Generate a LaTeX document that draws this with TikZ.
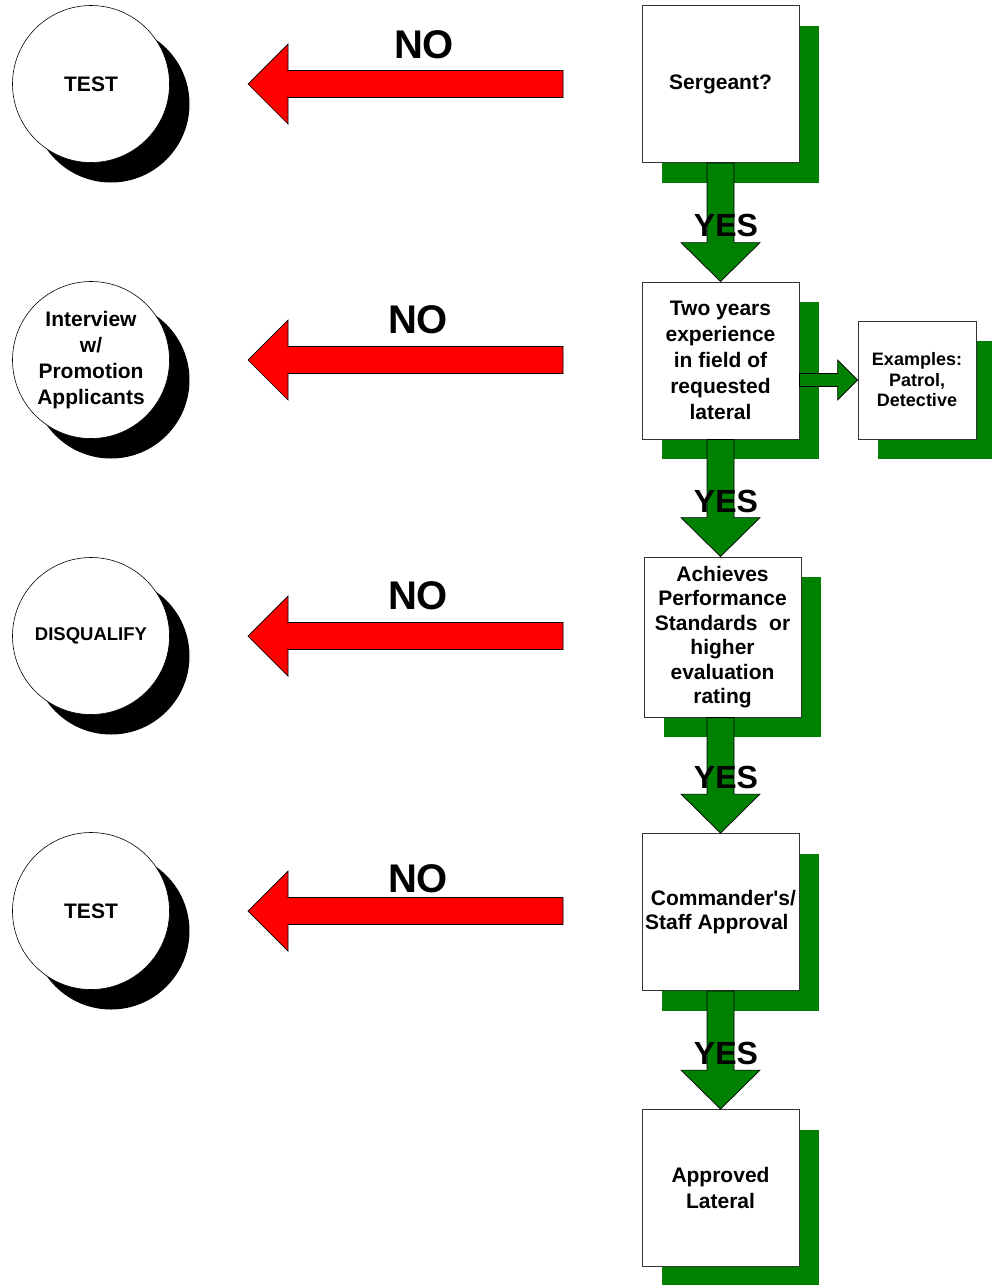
\documentclass[tikz,border=0pt]{standalone}
\usepackage{fontspec}
\setmainfont{Liberation Sans}
\newfontfamily\plainsans{Liberation Sans}
\usetikzlibrary{calc,shadows}
\definecolor{ggreen}{HTML}{008000}
\definecolor{rred}{HTML}{FF0000}
\newcommand{\fatdown}[2]{%
  \path (#1.south -| b1) coordinate (s) (#2.north -| b1) coordinate (t);
  \draw[garrow] ($(s)+(-13.5,0)$) -- ($(t)+(-13.5,-39)$) -- ($(t)+(-39.5,-39)$) -- (t)
    -- ($(t)+(39.5,-39)$) -- ($(t)+(13.5,-39)$) -- ($(s)+(13.5,0)$) -- cycle;}
\newcommand{\fatleft}[2]{%
  \draw[rarrow] ($(#1)+(0,-13.5)$) -- ($(#2)+(40,-13.5)$) -- ($(#2)+(40,-40)$) -- (#2)
    -- ($(#2)+(40,40)$) -- ($(#2)+(40,13.5)$) -- ($(#1)+(0,13.5)$) -- cycle;}
\begin{document}
\begin{tikzpicture}[x=1pt,y=-1pt,
  box/.style={draw=black!80,line width=0.8pt,fill=white,minimum width=157pt,minimum height=157pt,
    inner sep=1pt,align=center,font=\bfseries\fontsize{21}{26}\selectfont,
    drop shadow={shadow xshift=20pt,shadow yshift=-20pt,fill=ggreen,opacity=1}},
  disc/.style={circle,draw=black,line width=0.6pt,fill=white,minimum size=157pt,inner sep=0pt,
    align=center,font=\bfseries\fontsize{21}{26}\selectfont,
    drop shadow={shadow xshift=20pt,shadow yshift=-20pt,fill=black,opacity=1}},
  garrow/.style={draw=black,line width=0.7pt,fill=ggreen},
  rarrow/.style={draw=black,line width=0.7pt,fill=rred},
  nolab/.style={font=\bfseries\fontsize{40}{44}\selectfont,inner sep=0pt},
  yeslab/.style={font=\bfseries\fontsize{32}{36}\selectfont,inner sep=0pt}
]
\useasboundingbox (0,0) rectangle (992,1285);
% right column
\node[box] (b1) at (720.5,84) {\raisebox{-2pt}{Sergeant?}};
\node[box] (b2) at (720.5,360.5) {Two years\\experience\\in field of\\requested\\lateral};
\node[box,minimum height=160pt,font=\bfseries\fontsize{21}{24.5}\selectfont] (b3) at (722.5,637)
  {Achieves\\Performance\\Standards\ \ or\\higher\\evaluation\\rating};
\node[box,align=left,font=\plainsans\bfseries\fontsize{21}{24}\selectfont] (b4) at (720.5,912)
  {\raisebox{-2pt}{\ Commander's/}\\\raisebox{-2pt}{Staff Approval}};
\node[box] (b5) at (720.5,1188) {Approved\\Lateral};
\node[box,minimum width=118pt,minimum height=118pt,font=\bfseries\fontsize{18}{20.5}\selectfont] (ex) at (917,380)
  {Examples:\\Patrol,\\Detective};
% left column
\node[disc] (c1) at (91,84) {\raisebox{-2pt}{TEST}};
\node[disc] (c2) at (91,360) {Interview\\w/\\Promotion\\Applicants};
\node[disc,font=\bfseries\fontsize{18.5}{22}\selectfont] (c3) at (91,636) {DISQUALIFY};
\node[disc] (c4) at (91,911) {TEST};
% YES arrows
\fatdown{b1}{b2}
\fatdown{b2}{b3}
\fatdown{b3}{b4}
\fatdown{b4}{b5}
\node[yeslab] (y1) at (726,225) {YES};
\node[yeslab] (y2) at (726,501) {YES};
\node[yeslab] (y3) at (726,777) {YES};
\node[yeslab] (y4) at (726,1053) {YES};
% small arrow to examples
\path (b2.east |- ex.west) coordinate (es) (ex.west) coordinate (et);
\draw[garrow] ($(es)+(0,-6.5)$) -- ($(et)+(-20,-6.5)$) -- ($(et)+(-20,-20)$) -- (et)
  -- ($(et)+(-20,20)$) -- ($(et)+(-20,6.5)$) -- ($(es)+(0,6.5)$) -- cycle;
% NO arrows
\coordinate (n1s) at (563,84);  \coordinate (n1t) at (248,84);
\coordinate (n2s) at (563,360); \coordinate (n2t) at (248,360);
\coordinate (n3s) at (563,636); \coordinate (n3t) at (248,636);
\coordinate (n4s) at (563,911); \coordinate (n4t) at (248,911);
\fatleft{n1s}{n1t}
\fatleft{n2s}{n2t}
\fatleft{n3s}{n3t}
\fatleft{n4s}{n4t}
\node[nolab] (no1) at (424,45) {NO};
\node[nolab] (no2) at (418,320) {NO};
\node[nolab] (no3) at (418,596) {NO};
\node[nolab] (no4) at (418,879) {NO};
\end{tikzpicture}
\end{document}
